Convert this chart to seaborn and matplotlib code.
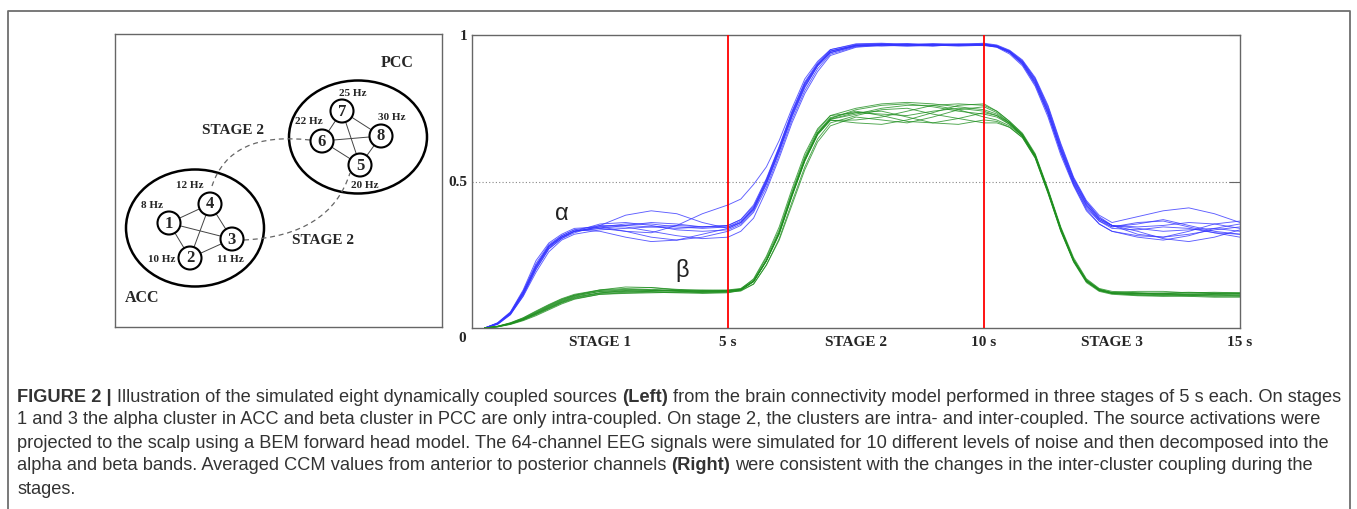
import matplotlib
matplotlib.use("Agg")
import numpy as np
import pandas as pd
import seaborn as sns
import matplotlib.pyplot as plt
from matplotlib.patches import Ellipse, Circle, PathPatch
from matplotlib.path import Path
from matplotlib.lines import Line2D

# ---------------- data ----------------
T = [0.25, 0.5, 0.75, 1.0, 1.25, 1.5, 1.75, 2.0,
     2.5, 3.0, 3.5, 4.0, 4.5, 5.0,
     5.25, 5.5, 5.75, 6.0, 6.25, 6.5, 6.75, 7.0,
     7.5, 8.0, 8.5, 9.0, 9.5, 10.0,
     10.25, 10.5, 10.75, 11.0, 11.25, 11.5, 11.75, 12.0, 12.25, 12.5,
     13.0, 13.5, 14.0, 14.5, 15.0]

alpha_runs = [
    [0, .015, .05, .12, .21, .28, .315, .335, .35, .35, .345, .34, .345, .35, .37, .42, .51, .62, .74, .84, .905, .95, .968, .97, .965, .968, .97, .968, .962, .945, .91, .85, .75, .62, .51, .43, .38, .35, .34, .33, .335, .34, .33],
    [0, .012, .045, .11, .20, .27, .305, .33, .355, .36, .35, .335, .33, .335, .355, .40, .49, .60, .72, .82, .895, .94, .962, .968, .97, .965, .966, .97, .963, .94, .90, .83, .73, .60, .49, .41, .365, .345, .355, .37, .35, .33, .32],
    [0, .018, .055, .13, .23, .29, .32, .34, .345, .33, .31, .30, .31, .33, .35, .395, .48, .59, .71, .81, .885, .935, .96, .965, .963, .966, .962, .965, .958, .935, .895, .825, .72, .59, .485, .40, .355, .33, .31, .30, .315, .34, .355],
    [0, .015, .05, .115, .205, .275, .31, .33, .34, .33, .325, .35, .39, .42, .44, .49, .55, .64, .75, .85, .91, .95, .97, .972, .968, .97, .968, .972, .966, .948, .915, .855, .76, .63, .515, .435, .385, .36, .38, .40, .41, .39, .36],
    [0, .013, .048, .115, .20, .27, .305, .325, .35, .385, .40, .39, .36, .34, .36, .405, .495, .605, .725, .825, .895, .94, .963, .966, .969, .963, .967, .966, .96, .942, .905, .84, .74, .61, .50, .42, .37, .35, .33, .305, .295, .31, .335],
    [0, .016, .052, .125, .22, .285, .315, .335, .33, .31, .295, .30, .32, .34, .36, .41, .50, .61, .73, .83, .90, .945, .965, .962, .966, .97, .965, .967, .961, .944, .908, .845, .745, .615, .505, .425, .375, .35, .345, .35, .36, .355, .34],
    [0, .014, .046, .108, .19, .26, .30, .32, .335, .34, .345, .35, .345, .345, .365, .41, .505, .615, .735, .835, .90, .945, .966, .97, .966, .962, .968, .969, .964, .946, .912, .85, .755, .625, .51, .43, .375, .35, .32, .31, .33, .355, .365],
    [0, .017, .053, .125, .215, .28, .31, .33, .34, .35, .36, .355, .345, .35, .37, .415, .505, .615, .735, .835, .90, .945, .964, .967, .965, .968, .966, .964, .959, .94, .90, .835, .735, .605, .495, .415, .365, .34, .335, .345, .34, .325, .31],
    [0, .015, .05, .118, .21, .275, .31, .33, .345, .345, .33, .315, .305, .31, .33, .375, .47, .58, .70, .80, .875, .93, .958, .965, .962, .964, .966, .966, .96, .94, .905, .835, .73, .60, .49, .405, .355, .33, .315, .31, .32, .335, .345],
    [0, .016, .05, .12, .21, .28, .31, .33, .345, .355, .355, .345, .34, .345, .36, .405, .495, .605, .725, .825, .895, .94, .965, .967, .97, .967, .964, .968, .962, .943, .906, .842, .742, .612, .50, .42, .37, .345, .36, .365, .345, .325, .32],
]

beta_runs = [
    [0, .005, .015, .03, .05, .072, .092, .108, .125, .13, .128, .125, .122, .125, .13, .16, .23, .325, .455, .575, .665, .715, .745, .76, .765, .755, .74, .73, .72, .695, .655, .585, .465, .335, .23, .16, .13, .12, .12, .118, .115, .112, .11],
    [0, .004, .012, .025, .042, .062, .082, .098, .115, .12, .122, .12, .118, .12, .128, .15, .215, .30, .42, .54, .635, .69, .72, .71, .70, .72, .745, .755, .735, .70, .66, .59, .47, .34, .235, .165, .133, .122, .125, .125, .12, .118, .115],
    [0, .006, .018, .035, .058, .08, .10, .115, .13, .135, .138, .13, .125, .128, .133, .168, .245, .345, .475, .595, .68, .725, .735, .74, .72, .70, .695, .71, .705, .685, .65, .58, .46, .33, .225, .155, .125, .115, .11, .108, .11, .115, .118],
    [0, .005, .014, .028, .048, .068, .088, .104, .12, .128, .132, .128, .12, .122, .13, .158, .228, .32, .45, .57, .66, .71, .70, .695, .71, .735, .76, .765, .74, .705, .665, .595, .475, .345, .24, .168, .135, .125, .12, .115, .112, .11, .108],
    [0, .005, .016, .032, .054, .076, .096, .112, .13, .14, .138, .132, .128, .13, .135, .165, .24, .335, .465, .585, .675, .725, .75, .765, .77, .765, .755, .745, .73, .70, .655, .585, .465, .335, .228, .158, .128, .118, .115, .117, .12, .122, .12],
    [0, .004, .013, .027, .045, .065, .085, .10, .115, .118, .12, .122, .122, .123, .126, .15, .215, .305, .43, .55, .645, .70, .725, .745, .75, .73, .715, .70, .70, .685, .65, .58, .46, .33, .228, .16, .128, .118, .112, .11, .108, .105, .105],
    [0, .006, .017, .034, .056, .078, .098, .112, .128, .132, .13, .126, .125, .127, .132, .16, .232, .328, .458, .578, .668, .718, .74, .725, .705, .70, .715, .735, .725, .70, .66, .59, .47, .34, .232, .162, .13, .12, .118, .12, .122, .12, .118],
    [0, .005, .015, .03, .05, .07, .09, .106, .12, .125, .128, .13, .128, .126, .13, .158, .23, .325, .455, .572, .662, .712, .73, .75, .76, .76, .745, .72, .71, .69, .655, .585, .465, .335, .23, .16, .128, .118, .113, .112, .115, .118, .12],
    [0, .004, .014, .029, .047, .067, .087, .102, .118, .122, .125, .128, .13, .128, .132, .16, .23, .322, .45, .57, .66, .708, .71, .72, .74, .76, .765, .76, .74, .705, .662, .59, .47, .34, .233, .163, .132, .12, .117, .113, .11, .108, .11],
    [0, .005, .016, .031, .052, .074, .094, .11, .125, .126, .124, .122, .124, .125, .13, .16, .23, .325, .455, .575, .665, .713, .735, .73, .725, .74, .75, .74, .725, .695, .657, .587, .467, .337, .23, .16, .13, .12, .118, .116, .116, .115, .113],
]

STAGE_LINES = [5, 10]
XTICKS = [2.5, 5, 7.5, 10, 12.5, 15]
XTICK_LABELS = ["STAGE 1", "5 s", "STAGE 2", "10 s", "STAGE 3", "15 s"]
YTICKS = [0.5, 1]
YTICK_LABELS = ["0.5", "1"]

# diagram (illustration) content
NODE_IDS = [1, 2, 3, 4, 5, 6, 7, 8]
NODE_X = [169, 190, 232, 210, 360, 322, 342, 381]
NODE_Y = [223, 258, 239, 204, 165, 141, 111, 136]
NODE_FREQ = ["8 Hz", "10 Hz", "11 Hz", "12 Hz", "20 Hz", "22 Hz", "25 Hz", "30 Hz"]
FREQ_X = [152, 162, 230, 190, 365, 309, 353, 392]
FREQ_Y = [205, 260, 260, 186, 185, 121, 93, 117]
ACC_EDGES = [(1, 4), (1, 2), (1, 3), (4, 2), (4, 3), (2, 3)]
PCC_EDGES = [(7, 6), (7, 8), (7, 5), (6, 8), (6, 5), (8, 5)]

CAPTION = [
    [("FIGURE 2 |", True), (" Illustration of the simulated eight dynamically coupled sources ", False), ("(Left)", True),
     (" from the brain connectivity model performed in three stages of 5 s each. On stages", False)],
    [("1 and 3 the alpha cluster in ACC and beta cluster in PCC are only intra-coupled. On stage 2, the clusters are intra- and inter-coupled. The source activations were", False)],
    [("projected to the scalp using a BEM forward head model. The 64-channel EEG signals were simulated for 10 different levels of noise and then decomposed into the", False)],
    [("alpha and beta bands. Averaged CCM values from anterior to posterior channels ", False), ("(Right)", True),
     (" were consistent with the changes in the inter-cluster coupling during the", False)],
    [("stages.", False)],
]

# ---------------- figure ----------------
sns.set_style("white")
plt.rcParams["font.family"] = ["Liberation Serif", "DejaVu Serif"]

W, H = 1357, 509
fig = plt.figure(figsize=(W / 100, H / 100), dpi=100)
fig.patch.set_facecolor("white")

# outer frame
fig.add_artist(Line2D([8 / W, 8 / W, 1350 / W, 1350 / W], [0, 1 - 11 / H, 1 - 11 / H, 0],
                      transform=fig.transFigure, color="#6e6e6e", lw=1.3))

# ---------- chart ----------
ax = fig.add_axes([472 / W, 1 - 328 / H, (1240 - 472) / W, (328 - 35) / H])
rows = []
for i, run in enumerate(alpha_runs):
    for t, v in zip(T, run):
        rows.append(("alpha", f"a{i}", t, v))
for i, run in enumerate(beta_runs):
    for t, v in zip(T, run):
        rows.append(("beta", f"b{i}", t, v))
df = pd.DataFrame(rows, columns=["band", "run", "t", "value"])
sns.lineplot(data=df, x="t", y="value", hue="band", units="run", estimator=None,
             palette={"alpha": "#3535ff", "beta": "#1f8f1f"}, lw=0.65, alpha=0.8,
             legend=False, ax=ax)

ax.axhline(0.5, color="#888888", lw=0.8, ls=(0, (1, 2)), zorder=0)
for s in STAGE_LINES:
    ax.axvline(s, color="#ff0000", lw=1.3, zorder=3)

ax.set_xlim(0, 15)
ax.set_ylim(0, 1)
ax.set_xlabel("")
ax.set_ylabel("")
for sp in ax.spines.values():
    sp.set_color("#666666")
    sp.set_linewidth(1.0)
ax.set_xticks(XTICKS)
ax.set_xticklabels(XTICK_LABELS, fontsize=11, fontweight="bold", family="Liberation Serif")
ax.tick_params(axis="x", length=0, pad=6)
ax.set_yticks(YTICKS)
ax.set_yticklabels(YTICK_LABELS, fontsize=11, fontweight="bold", family="Liberation Serif")
ax.tick_params(axis="y", direction="in", length=8, right=True, color="#666666", pad=3)
ax.annotate("0", xy=(0, 0), xytext=(-10, -10), textcoords="offset pixels",
            ha="center", va="center", fontsize=11, fontweight="bold")
ax.text(1.75, 0.39, "α", fontsize=17, family="Liberation Sans", ha="center", va="center", color="#222222")
ax.text(4.1, 0.195, "β", fontsize=17, family="Liberation Sans", ha="center", va="center", color="#222222")

# ---------- diagram ----------
dax = fig.add_axes([115 / W, 1 - 327 / H, 327 / W, 293 / H])
dax.set_xlim(115, 442)
dax.set_ylim(327, 34)
dax.set_xticks([])
dax.set_yticks([])
for sp in dax.spines.values():
    sp.set_color("#666666")
    sp.set_linewidth(1.0)

dax.add_patch(Ellipse((195, 228), 138, 117, fill=False, ec="black", lw=1.8))
dax.add_patch(Ellipse((358, 137), 138, 113, fill=False, ec="black", lw=1.8))

pos = {n: (x, y) for n, x, y in zip(NODE_IDS, NODE_X, NODE_Y)}
for a, b in ACC_EDGES + PCC_EDGES:
    dax.plot([pos[a][0], pos[b][0]], [pos[a][1], pos[b][1]], color="#444444", lw=0.7, zorder=2)

p1 = Path([(310, 140), (230, 131), (212, 186)], [Path.MOVETO, Path.CURVE3, Path.CURVE3])
p2 = Path([(244, 240), (330, 236), (350, 173)], [Path.MOVETO, Path.CURVE3, Path.CURVE3])
for p in (p1, p2):
    dax.add_patch(PathPatch(p, fill=False, ec="#666666", lw=0.9, ls=(0, (4, 3)), zorder=2))

for n, x, y in zip(NODE_IDS, NODE_X, NODE_Y):
    dax.add_patch(Circle((x, y), 11.5, fc="white", ec="black", lw=1.5, zorder=4))
    dax.text(x, y + 0.5, str(n), ha="center", va="center", fontsize=12, fontweight="bold", zorder=5)
for s, x, y in zip(NODE_FREQ, FREQ_X, FREQ_Y):
    dax.text(x, y, s, ha="center", va="center", fontsize=8, fontweight="bold")
dax.text(397, 63, "PCC", ha="center", va="center", fontsize=11.5, fontweight="bold")
dax.text(142, 298, "ACC", ha="center", va="center", fontsize=11.5, fontweight="bold")
dax.text(233, 130, "STAGE 2", ha="center", va="center", fontsize=11, fontweight="bold")
dax.text(323, 240, "STAGE 2", ha="center", va="center", fontsize=11, fontweight="bold")

# ---------- caption ----------
cap_family = ["Liberation Sans Narrow", "Liberation Sans", "DejaVu Sans"]
renderer = fig.canvas.get_renderer()


def text_w(s, size, bold):
    t = fig.text(0, 0, s, fontsize=size, fontweight="bold" if bold else "normal", family=cap_family)
    w = t.get_window_extent(renderer).width
    t.remove()
    return w


def piece_advance(s, size, bold):
    core = s.strip()
    lead = len(s) - len(s.lstrip())
    trail = len(s) - len(s.rstrip())
    sp = text_w("a a", size, bold) - text_w("aa", size, bold)
    return lead * sp, text_w(core, size, bold), trail * sp


base = 13.0
total = sum(sum(piece_advance(s, base, b)) for s, b in CAPTION[0])
size = base * (1338 - 17) / total
line_y = [397, 420, 443, 466, 489]
for pieces, py in zip(CAPTION, line_y):
    x = 17.0
    for s, b in pieces:
        lead, w, trail = piece_advance(s, size, b)
        fig.text((x + lead) / W, 1 - py / H, s.strip(), fontsize=size,
                 fontweight="bold" if b else "normal", family=cap_family,
                 color="#333333", va="center", ha="left")
        x += lead + w + trail

fig.savefig("out.png", dpi=100)
